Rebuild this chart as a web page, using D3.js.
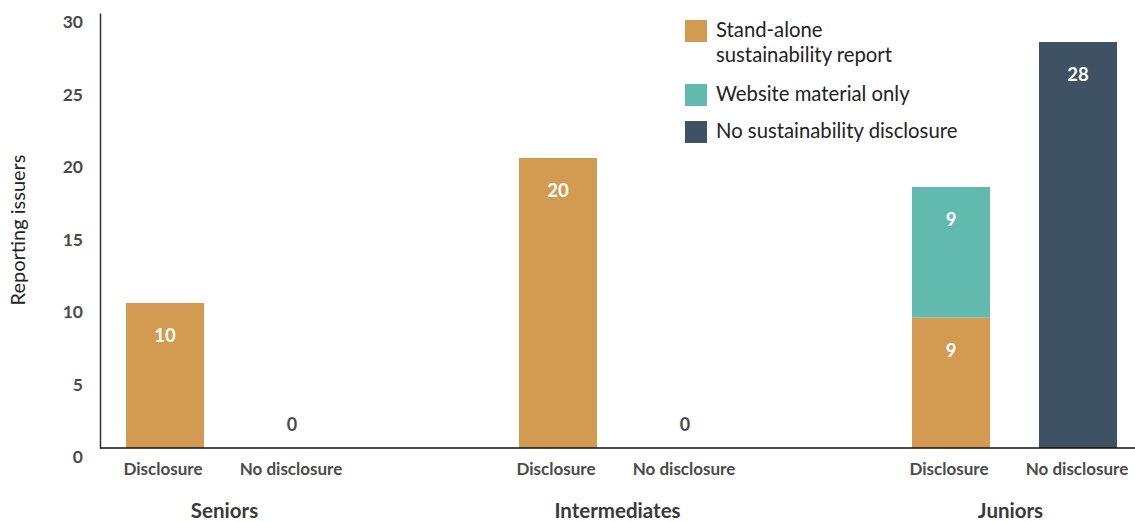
<!DOCTYPE html>
<html><head><meta charset="utf-8">
<script src="https://cdn.jsdelivr.net/npm/d3@7"></script>
<style>body{margin:0;background:#fff;} svg{display:block;font-family:Lato,"Noto Sans",sans-serif;}</style>
</head><body>
<svg id="c" width="1135" height="522"></svg>
<script>
const groups = ["Seniors", "Intermediates", "Juniors"];
const categories = ["Disclosure", "No disclosure"];
const seriesNames = ["Stand-alone sustainability report", "Website material only", "No sustainability disclosure"];
const standAlone = [10, 0, 20, 0, 9, 0];
const websiteOnly = [0, 0, 0, 0, 9, 0];
const noDisclosure = [0, 0, 0, 0, 0, 28];
const yTicks = [0, 5, 10, 15, 20, 25, 30];
const colors = ["#D39A52", "#62BAAF", "#3F5263"];

const svg = d3.select("#c");
const y = d3.scaleLinear().domain([0, 30]).range([448, 13]);
const gx = d3.scalePoint().domain(groups).range([228.5, 1014.5]);
const cx = d3.scaleBand().domain(categories).range([-127, 127]).paddingInner(0.386).paddingOuter(0.193);

const rows = [];
groups.forEach((g, gi) => categories.forEach((c, ci) => {
  const i = gi * 2 + ci;
  rows.push({group: g, cat: c, s0: standAlone[i], s1: websiteOnly[i], s2: noDisclosure[i]});
}));
const stack = d3.stack().keys(["s0", "s1", "s2"])(rows);

stack.forEach((layer, li) => {
  layer.forEach(d => {
    const r = d.data;
    const v = d[1] - d[0];
    if (v <= 0) return;
    const x0 = gx(r.group) + cx(r.cat);
    svg.append("rect").attr("x", x0).attr("width", cx.bandwidth())
      .attr("y", y(d[1])).attr("height", y(d[0]) - y(d[1])).attr("fill", colors[li]);
    svg.append("text").attr("x", x0 + cx.bandwidth() / 2).attr("y", y(d[1]) + 39)
      .attr("text-anchor", "middle").attr("fill", "#fff").attr("font-weight", 700)
      .attr("font-size", 18.5).text(v);
  });
});
// zero labels
rows.forEach(r => {
  if (r.s0 + r.s1 + r.s2 === 0) {
    svg.append("text").attr("x", gx(r.group) + cx(r.cat) + cx.bandwidth() / 2).attr("y", y(0) - 17)
      .attr("text-anchor", "middle").attr("fill", "#4a4a4a").attr("font-weight", 700)
      .attr("font-size", 18).text(0);
  }
});

// y axis
const ya = svg.append("g").attr("transform", "translate(100,0)")
  .call(d3.axisLeft(y).tickValues(yTicks).tickSize(0).tickPadding(17));
ya.select(".domain").attr("stroke", "#333").attr("stroke-width", 1.5);
ya.selectAll("text").attr("font-size", 17.5).attr("font-weight", 700).attr("fill", "#4a4a4a")
  .attr("font-family", "Lato,'Noto Sans',sans-serif").attr("dy", "0.85em");

// x axis baseline
svg.append("line").attr("x1", 100).attr("x2", 1135).attr("y1", y(0)).attr("y2", y(0))
  .attr("stroke", "#111").attr("stroke-width", 1.5);

// category labels
rows.forEach(r => {
  svg.append("text").attr("x", gx(r.group) + cx(r.cat) + cx.bandwidth() / 2 - (r.cat === "Disclosure" ? 2 : 1)).attr("y", 475)
    .attr("text-anchor", "middle").attr("fill", "#4a4a4a").attr("font-weight", 700)
    .attr("font-size", 17).text(r.cat);
});
groups.forEach(g => {
  svg.append("text").attr("x", gx(g) - 4).attr("y", 518).attr("text-anchor", "middle")
    .attr("fill", "#3a3a3a").attr("font-weight", 700).attr("font-size", 20.5).text(g);
});

// y title
svg.append("text").attr("transform", "translate(25,230) rotate(-90)").attr("text-anchor", "middle")
  .attr("fill", "#222").attr("font-size", 20).text("Reporting issuers");

// legend
const legend = [
  {lines: ["Stand-alone", "sustainability report"], y: 20},
  {lines: ["Website material only"], y: 84},
  {lines: ["No sustainability disclosure"], y: 121}
];
legend.forEach((l, i) => {
  svg.append("rect").attr("x", 685).attr("y", l.y).attr("width", 22).attr("height", 22).attr("fill", colors[i]);
  l.lines.forEach((t, j) => {
    svg.append("text").attr("x", 716).attr("y", l.y + 17 + j * 25).attr("fill", "#222")
      .attr("font-size", 20.3).text(t);
  });
});
</script>
</body></html>
